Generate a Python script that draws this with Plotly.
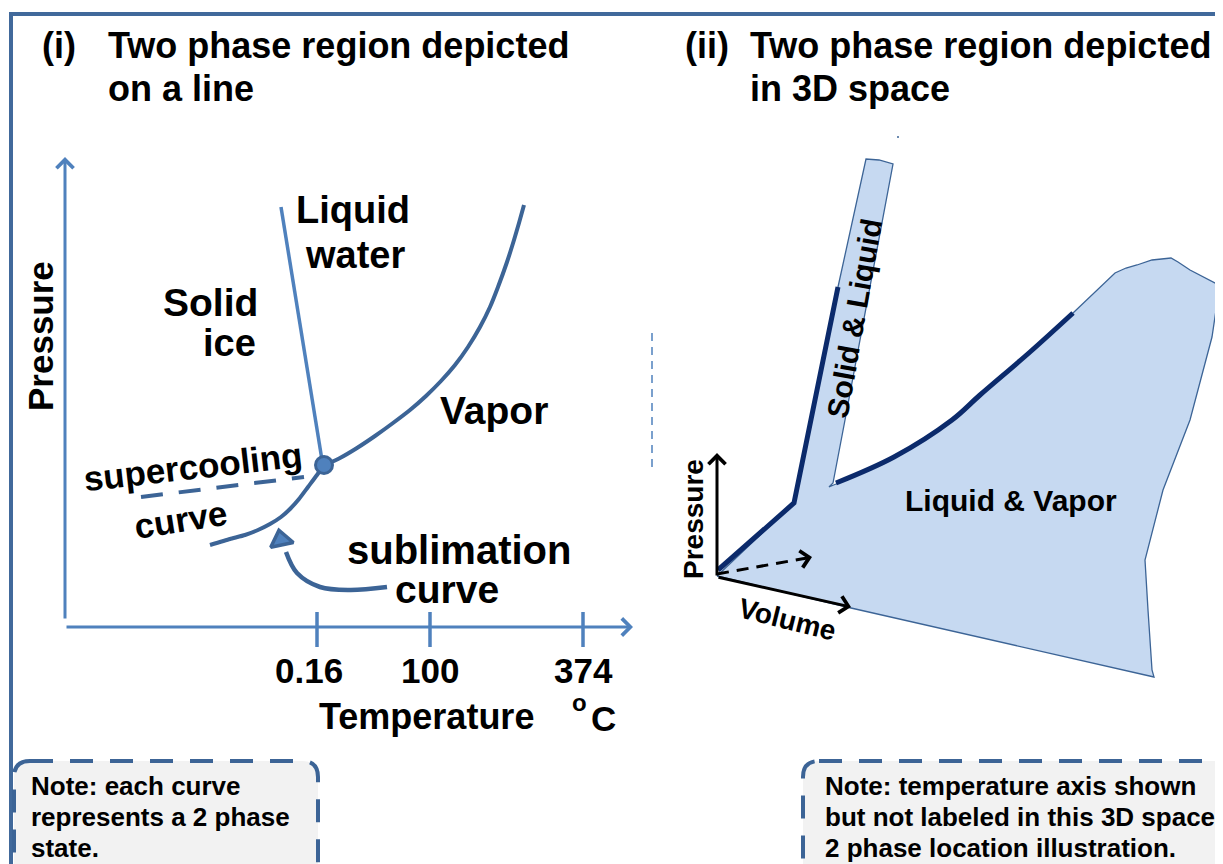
import plotly.graph_objects as go

FONT = "Liberation Sans, Arial, Helvetica, sans-serif"
BLUE = "#4F81BD"
DBLUE = "#3C6496"
NAVY = "#0B2A6B"
FILL = "#C6D9F1"
FRAME = "#41699B"

# ---------------- panel (i): phase diagram on a line ----------------
melt_x = [281, 322]
melt_y = [207, 460]
vap_x = [325, 340, 357, 375, 393, 410, 426, 441, 455, 468, 480, 490, 498, 507, 514, 519, 524]
vap_y = [465, 458, 448, 436, 423, 410, 396, 381, 365, 347, 327, 307, 287, 262, 240, 223, 205]
subl_x = [324, 317, 308, 299, 290, 281, 270, 258, 245, 230, 210]
subl_y = [465, 475, 487, 499, 509, 517, 524, 530, 535, 539, 545]
super_x = [141, 304]
super_y = [497, 477]
triple_x = [324]
triple_y = [465]
pointer_x = [387, 350, 320, 297, 286]
pointer_y = [587, 590, 587, 573, 552]
pointer_head_x = [281]
pointer_head_y = [540]

# axes of panel (i)
p_axis_x = [65, 65]
p_axis_y = [620, 157]
t_axis_x = [65, 633]
t_axis_y = [627, 627]
tick_pos = [317, 430, 583]
tick_labels = ["0.16", "100", "374"]

# ---------------- panel (ii): 3D projection ----------------
region_x = [717, 794, 838, 866, 879, 893, 845, 833, 829, 836, 894, 952, 980, 1030, 1073,
            1115, 1126, 1137, 1152, 1171, 1178, 1190, 1219, 1219, 1212, 1201, 1190, 1163,
            1147, 1145, 1148, 1152, 1154, 851, 717]
region_y = [576, 503, 287, 159, 160, 164, 420, 483, 487, 484, 457, 420, 395, 352, 313,
            273, 268, 265, 260, 258, 262, 270, 285, 290, 337, 380, 420, 490,
            553, 560, 610, 670, 677, 608, 576]
sl_edge_x = [718, 794, 838]
sl_edge_y = [570, 503, 287]
lv_edge_x = [836, 894, 952, 980, 1030, 1073]
lv_edge_y = [483, 457, 420, 395, 352, 313]
origin = (717, 577)
p3_end = (717, 453)
v3_end = (851, 607)
t3_end = (812, 557)

fig = go.Figure()

# filled two-phase region (ii)
fig.add_trace(go.Scatter(x=region_x, y=region_y, mode="lines", fill="toself",
                         fillcolor=FILL, line=dict(color=DBLUE, width=1.3),
                         hoverinfo="skip"))
fig.add_trace(go.Scatter(x=sl_edge_x, y=sl_edge_y, mode="lines",
                         line=dict(color=NAVY, width=5), hoverinfo="skip"))
fig.add_trace(go.Scatter(x=lv_edge_x, y=lv_edge_y, mode="lines",
                         line=dict(color=NAVY, width=5, shape="spline"), hoverinfo="skip"))
# dashed temperature axis (ii)
fig.add_trace(go.Scatter(x=[origin[0], t3_end[0] - 8], y=[origin[1] - 3, t3_end[1] + 1.5],
                         mode="lines", line=dict(color="black", width=3, dash="12px,8px"),
                         hoverinfo="skip"))

# panel (i) curves
fig.add_trace(go.Scatter(x=melt_x, y=melt_y, mode="lines",
                         line=dict(color=BLUE, width=3.5), hoverinfo="skip"))
fig.add_trace(go.Scatter(x=vap_x, y=vap_y, mode="lines",
                         line=dict(color=DBLUE, width=4, shape="spline", smoothing=0.5),
                         hoverinfo="skip"))
fig.add_trace(go.Scatter(x=subl_x, y=subl_y, mode="lines",
                         line=dict(color=DBLUE, width=4, shape="spline", smoothing=0.5),
                         hoverinfo="skip"))
fig.add_trace(go.Scatter(x=super_x, y=super_y, mode="lines",
                         line=dict(color=DBLUE, width=4, dash="22px,16px"), hoverinfo="skip"))
fig.add_trace(go.Scatter(x=pointer_x, y=pointer_y, mode="lines",
                         line=dict(color=DBLUE, width=4.5, shape="spline"), hoverinfo="skip"))
fig.add_trace(go.Scatter(x=pointer_head_x, y=pointer_head_y, mode="markers",
                         marker=dict(symbol="triangle-up", size=20, angle=-12, color=BLUE,
                                     line=dict(color=DBLUE, width=3.5)), hoverinfo="skip"))
fig.add_trace(go.Scatter(x=triple_x, y=triple_y, mode="markers",
                         marker=dict(symbol="circle", size=17, color=BLUE,
                                     line=dict(color=DBLUE, width=3)), hoverinfo="skip"))
# tick marks
for tx in tick_pos:
    fig.add_trace(go.Scatter(x=[tx, tx], y=[612, 647], mode="lines",
                             line=dict(color=BLUE, width=3.5), hoverinfo="skip"))

ann = []


def arrow(x0, y0, x1, y1, color, width, head=4, size=1.1):
    ann.append(dict(x=x1, y=y1, ax=x0, ay=y0, xref="x", yref="y", axref="x", ayref="y",
                    text="", showarrow=True, arrowhead=head, arrowsize=size,
                    arrowwidth=width, arrowcolor=color))


arrow(p_axis_x[0], p_axis_y[0], p_axis_x[1], p_axis_y[1], BLUE, 3)
arrow(t_axis_x[0], t_axis_y[0], t_axis_x[1], t_axis_y[1], BLUE, 3)
arrow(origin[0], origin[1], p3_end[0], p3_end[1], "black", 3)
arrow(origin[0], origin[1], v3_end[0], v3_end[1], "black", 3)
arrow(t3_end[0] - 10, t3_end[1] + 2, t3_end[0], t3_end[1], "black", 3)


def txt(x, y, s, size, angle=0, xa="center", ya="middle"):
    ann.append(dict(x=x, y=y, xref="x", yref="y", text="<b>" + s + "</b>", showarrow=False,
                    textangle=angle, xanchor=xa, yanchor=ya,
                    font=dict(family=FONT, size=size, color="black")))


# titles
txt(40, 45, "(i)", 36, xa="left")
txt(106, 45, "Two phase region depicted", 36, xa="left")
txt(106, 88, "on a line", 36, xa="left")
txt(683, 45, "(ii)", 36, xa="left")
txt(748, 45, "Two phase region depicted", 36, xa="left")
txt(748, 88, "in 3D space", 36, xa="left")

# panel (i) labels
txt(40, 336, "Pressure", 35, angle=-90)
txt(353, 210, "Liquid", 38)
txt(355, 255, "water", 38)
txt(210, 302, "Solid", 39)
txt(258, 343, "ice", 38, xa="right")
txt(494, 410, "Vapor", 39)
txt(193, 466, "supercooling", 35, angle=-6.5)
txt(180, 519, "curve", 35, angle=-9)
txt(459, 550, "sublimation", 40)
txt(447, 589, "curve", 39)
for tx, tl in zip(tick_pos, tick_labels):
    txt(tx - 8 if tl == "0.16" else tx, 670, tl, 35)
txt(426, 716, "Temperature", 36)
txt(579, 702, "o", 24)
txt(603, 718, "C", 35)

# panel (ii) labels
txt(854, 318, "Solid &amp; Liquid", 30, angle=-80)
txt(1011, 500, "Liquid &amp; Vapor", 30)
txt(693, 519, "Pressure", 28, angle=-90)
txt(787, 619, "Volume", 28, angle=14)

# notes
note_l = ["Note: each curve", "represents a 2 phase", "state."]
note_r = ["Note: temperature axis shown", "but not labeled in this 3D space", "2 phase location illustration."]
for i, s in enumerate(note_l):
    txt(29, 786 + 31 * i, s, 26, xa="left")
for i, s in enumerate(note_r):
    txt(823, 786 + 31 * i, s, 26, xa="left")


def rbox(x0, y0, x1, y1, r):
    return (f"M{x0 + r},{y0} L{x1 - r},{y0} Q{x1},{y0} {x1},{y0 + r} L{x1},{y1 - r} "
            f"Q{x1},{y1} {x1 - r},{y1} L{x0 + r},{y1} Q{x0},{y1} {x0},{y1 - r} "
            f"L{x0},{y0 + r} Q{x0},{y0} {x0 + r},{y0} Z")


shapes = [
    # outer frame
    dict(type="line", xref="x", yref="y", x0=11, y0=14, x1=1225, y1=14,
         line=dict(color=FRAME, width=4), layer="above"),
    dict(type="line", xref="x", yref="y", x0=11, y0=12, x1=11, y1=870,
         line=dict(color=FRAME, width=4), layer="above"),
    # dashed divider
    dict(type="line", xref="x", yref="y", x0=652, y0=333, x1=652, y1=470,
         line=dict(color=BLUE, width=1.5, dash="8px,6px"), layer="above"),
    # note boxes
    dict(type="path", xref="x", yref="y", path=rbox(14, 761, 318, 880, 16),
         fillcolor="#F2F2F2", line=dict(color=DBLUE, width=4, dash="23px,17px"), layer="above"),
    dict(type="path", xref="x", yref="y", path=rbox(803, 761, 1250, 880, 16),
         fillcolor="#F2F2F2", line=dict(color=DBLUE, width=4, dash="23px,17px"), layer="above"),
    # tiny dot near top of panel (ii)
    dict(type="circle", xref="x", yref="y", x0=897, y0=136, x1=899, y1=138,
         fillcolor=DBLUE, line=dict(width=0)),
]

# the page body has an 8px margin, so the figure is offset by 8px; compensate in the ranges
OFF = 8
fig.update_layout(
    width=1223 - OFF, height=864 - OFF, margin=dict(l=0, r=0, t=0, b=0),
    paper_bgcolor="white", plot_bgcolor="white", showlegend=False,
    xaxis=dict(range=[OFF, 1223], visible=False, fixedrange=True),
    yaxis=dict(range=[864, OFF], visible=False, fixedrange=True),
    annotations=ann, shapes=shapes,
)

fig.write_html("out.html")
